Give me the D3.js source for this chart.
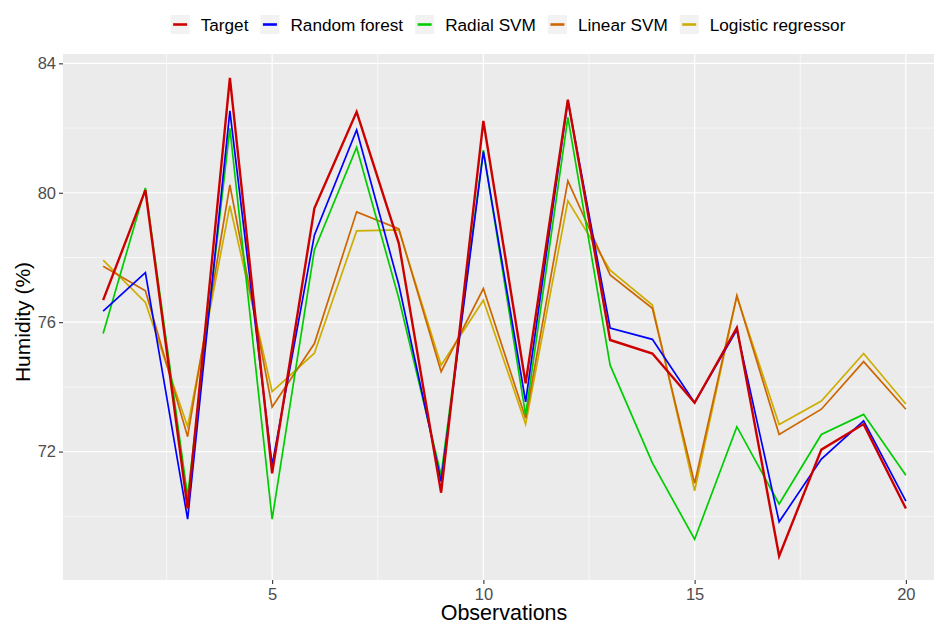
<!DOCTYPE html>
<html>
<head>
<meta charset="utf-8">
<script src="https://cdn.jsdelivr.net/npm/d3@7"></script>
<style>
  body { margin: 0; background: #fff; }
  svg { display: block; font-family: "Liberation Sans", Arial, sans-serif; }
</style>
</head>
<body>
<div id="chart"></div>
<script>
// observation index 1..20
var observations = d3.range(1, 21);

var seriesNames = ["Target", "Random forest", "Radial SVM", "Linear SVM", "Logistic regressor"];
var seriesColors = ["#cd0000", "#0000ff", "#00cd00", "#cd6600", "#cdad00"];

var target =       [76.68, 80.08, 70.24, 83.55, 71.33, 79.52, 82.50, 78.43, 70.73, 82.22, 74.11, 82.88, 75.45, 75.03, 73.51, 75.83, 68.77, 72.06, 72.85, 70.24];
var randomForest = [76.34, 77.53, 69.91, 82.53, 71.58, 78.69, 81.94, 77.15, 71.07, 81.27, 73.54, 82.85, 75.82, 75.47, 73.51, 75.76, 69.83, 71.77, 72.95, 70.47];
var radialSVM =    [75.65, 80.15, 70.60, 81.99, 69.91, 78.23, 81.40, 76.73, 71.27, 81.32, 73.13, 82.33, 74.67, 71.65, 69.29, 72.77, 70.38, 72.53, 73.15, 71.27];
var linearSVM =    [77.73, 76.97, 72.46, 80.24, 73.38, 75.34, 79.41, 78.88, 74.47, 77.04, 73.03, 80.37, 77.46, 76.43, 71.02, 76.82, 72.53, 73.31, 74.78, 73.31];
var logistic =     [77.92, 76.61, 72.77, 79.60, 73.85, 75.04, 78.82, 78.85, 74.67, 76.68, 72.85, 79.75, 77.61, 76.53, 70.79, 76.80, 72.84, 73.56, 75.03, 73.47];

var xTicks = [5, 10, 15, 20];
var yTicks = [72, 76, 80, 84];

var W = 934, H = 624;
var panel = {left: 63, right: 946, top: 54, bottom: 580};

var svg = d3.select("#chart").append("svg")
    .attr("width", W).attr("height", H);

var allVals = [].concat(target, randomForest, radialSVM, linearSVM, logistic);
var yMin = d3.min(allVals), yMax = d3.max(allVals);
var yPad = (yMax - yMin) * 0.05;

var x = d3.scaleLinear().domain([1 - 0.95, 20 + 0.95]).range([panel.left, panel.right]);
var y = d3.scaleLinear().domain([yMin - yPad, yMax + yPad]).range([panel.bottom, panel.top]);

// panel background
svg.append("rect")
    .attr("x", panel.left).attr("y", panel.top)
    .attr("width", panel.right - panel.left).attr("height", panel.bottom - panel.top)
    .attr("fill", "#ebebeb");

var grid = svg.append("g");
// minor grid
var xMinor = [2.5, 7.5, 12.5, 17.5];
var yMinor = [70, 74, 78, 82];
grid.selectAll(".xminor").data(xMinor).enter().append("line")
    .attr("x1", function(d) { return x(d); }).attr("x2", function(d) { return x(d); })
    .attr("y1", panel.top).attr("y2", panel.bottom)
    .attr("stroke", "#fff").attr("stroke-width", 0.6);
grid.selectAll(".yminor").data(yMinor).enter().append("line")
    .attr("y1", function(d) { return y(d); }).attr("y2", function(d) { return y(d); })
    .attr("x1", panel.left).attr("x2", panel.right)
    .attr("stroke", "#fff").attr("stroke-width", 0.6);
// major grid
grid.selectAll(".xmajor").data(xTicks).enter().append("line")
    .attr("x1", function(d) { return x(d); }).attr("x2", function(d) { return x(d); })
    .attr("y1", panel.top).attr("y2", panel.bottom)
    .attr("stroke", "#fff").attr("stroke-width", 1.2);
grid.selectAll(".ymajor").data(yTicks).enter().append("line")
    .attr("y1", function(d) { return y(d); }).attr("y2", function(d) { return y(d); })
    .attr("x1", panel.left).attr("x2", panel.right)
    .attr("stroke", "#fff").attr("stroke-width", 1.2);

// axes
var xAxis = svg.append("g")
    .attr("transform", "translate(0," + panel.bottom + ")")
    .call(d3.axisBottom(x).tickValues(xTicks).tickSize(4).tickPadding(4));
var yAxis = svg.append("g")
    .attr("transform", "translate(" + panel.left + ",0)")
    .call(d3.axisLeft(y).tickValues(yTicks).tickSize(4).tickPadding(3));
[xAxis, yAxis].forEach(function(a) {
  a.select(".domain").remove();
  a.selectAll(".tick line").attr("stroke", "#333333").attr("stroke-width", 1.1);
  a.selectAll(".tick text").attr("fill", "#4d4d4d")
      .style("font-size", "16.5px").style("font-family", "'Liberation Sans', Arial, sans-serif");
});

// lines, target drawn last
var series = [target, randomForest, radialSVM, linearSVM, logistic];
var line = d3.line()
    .x(function(d, i) { return x(observations[i]); })
    .y(function(d) { return y(d); });

var order = [4, 3, 2, 1, 0];
svg.append("g").selectAll("path").data(order).enter().append("path")
    .attr("d", function(k) { return line(series[k]); })
    .attr("fill", "none")
    .attr("stroke", function(k) { return seriesColors[k]; })
    .attr("stroke-width", function(k) { return k === 0 ? 2.4 : 1.7; })
    .attr("stroke-linejoin", "miter");

// axis titles
svg.append("text")
    .attr("x", 504).attr("y", 620)
    .attr("text-anchor", "middle")
    .style("font-size", "21.5px").attr("fill", "#000")
    .text("Observations");
svg.append("text")
    .attr("transform", "translate(30," + ((panel.top + panel.bottom) / 2 + 5) + ") rotate(-90)")
    .attr("text-anchor", "middle")
    .style("font-size", "21px").attr("fill", "#000")
    .text("Humidity (%)");

// legend
var legend = svg.append("g");
var keySize = 19, keyGap = 11, itemGap = 12;
var items = legend.selectAll("g").data(seriesNames).enter().append("g");
items.append("rect")
    .attr("width", keySize).attr("height", keySize)
    .attr("y", 15).attr("fill", "#f2f2f2");
items.append("line")
    .attr("x1", 2.5).attr("x2", keySize - 2.5)
    .attr("y1", 15 + keySize / 2).attr("y2", 15 + keySize / 2)
    .attr("stroke", function(d, i) { return seriesColors[i]; })
    .attr("stroke-width", 2.6);
items.append("text")
    .attr("x", keySize + keyGap).attr("y", 31)
    .style("font-size", "17.2px").attr("fill", "#000")
    .text(function(d) { return d; });

var pos = 0, offsets = [];
items.each(function() {
  var w = d3.select(this).select("text").node().getComputedTextLength();
  offsets.push(pos);
  pos += keySize + keyGap + w + itemGap;
});
var total = pos - itemGap;
var startX = 508 - total / 2;
items.attr("transform", function(d, i) { return "translate(" + (startX + offsets[i]) + ",0)"; });
</script>
</body>
</html>
